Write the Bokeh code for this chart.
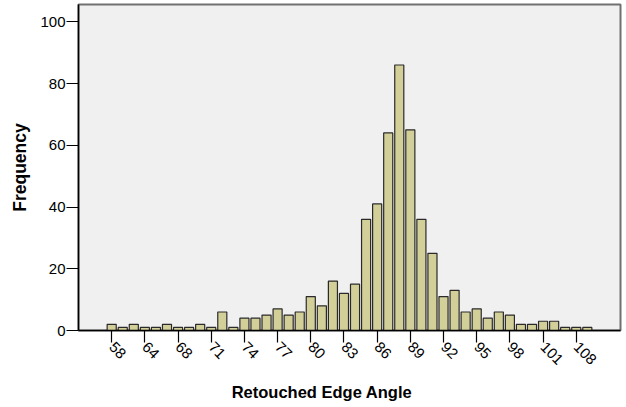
import math
from bokeh.plotting import figure
from bokeh.models import Range1d, FixedTicker, ColumnDataSource
from bokeh.embed import file_html
from bokeh.resources import INLINE

categories = ["58", "60", "62", "64", "65", "66", "68", "69", "70", "71", "72", "73",
              "74", "75", "76", "77", "78", "79", "80", "81", "82", "83", "84", "85",
              "86", "87", "88", "89", "90", "91", "92", "93", "94", "95", "96", "97",
              "98", "99", "100", "101", "102", "105", "108", "110"]
frequency = [2, 1, 2, 1, 1, 2, 1, 1, 2, 1, 6, 1,
             4, 4, 5, 7, 5, 6, 11, 8, 16, 12, 15, 36,
             41, 64, 86, 65, 36, 25, 11, 13, 6, 7, 4, 6,
             5, 2, 2, 3, 3, 1, 1, 1]
tick_labels = ["58", "64", "68", "71", "74", "77", "80", "83", "86", "89",
               "92", "95", "98", "101", "108"]
y_ticks = [0, 20, 40, 60, 80, 100]

xpos = list(range(len(categories)))
tick_pos = [categories.index(t) for t in tick_labels]

src = ColumnDataSource(dict(x=xpos, top=frequency, cat=categories))

p = figure(width=623, height=405, output_backend="svg", toolbar_location=None,
           x_range=Range1d(-3, 46), y_range=Range1d(0, 105.6),
           min_border_left=78, min_border_right=3, min_border_top=4,
           min_border_bottom=75)
p.background_fill_color = "#f0f0f0"
p.border_fill_color = "white"
p.outline_line_color = "#707070"
p.outline_line_width = 2
p.grid.visible = False

p.vbar(x="x", top="top", width=0.82, bottom=0, source=src,
       fill_color="#d3cf99", line_color="#2a2a2a", line_width=1.2)

font = "Liberation Sans"
p.xaxis.ticker = FixedTicker(ticks=tick_pos)
p.xaxis.major_label_overrides = {i: t for i, t in zip(tick_pos, tick_labels)}
p.xaxis.major_label_orientation = -math.pi / 4
p.yaxis.ticker = FixedTicker(ticks=y_ticks)

for ax in (p.xaxis[0], p.yaxis[0]):
    ax.axis_line_color = "black"
    ax.axis_line_width = 1.5
    ax.major_tick_line_color = "black"
    ax.major_tick_line_width = 1.2
    ax.major_tick_out = 12
    ax.major_tick_in = 0
    ax.minor_tick_out = 0
    ax.minor_tick_in = 0
    ax.major_label_text_font = font
    ax.major_label_text_font_size = "15px"
    ax.major_label_text_color = "black"
    ax.axis_label_text_font = font
    ax.axis_label_text_font_style = "bold"
    ax.axis_label_text_color = "black"

p.xaxis.major_label_standoff = 2
p.yaxis.major_label_standoff = 1
p.yaxis.axis_label = "Frequency"
p.yaxis.axis_label_text_font_size = "17.5px"
p.yaxis.axis_label_standoff = 7

# label is drawn left of the frame centre, as in the reference
p.xaxis.axis_label = "Retouched Edge Angle" + "\u00a0" * 12
p.xaxis.axis_label_text_font_size = "16.5px"
p.xaxis.axis_label_standoff = 11

open("out.html", "w").write(file_html(p, INLINE))
